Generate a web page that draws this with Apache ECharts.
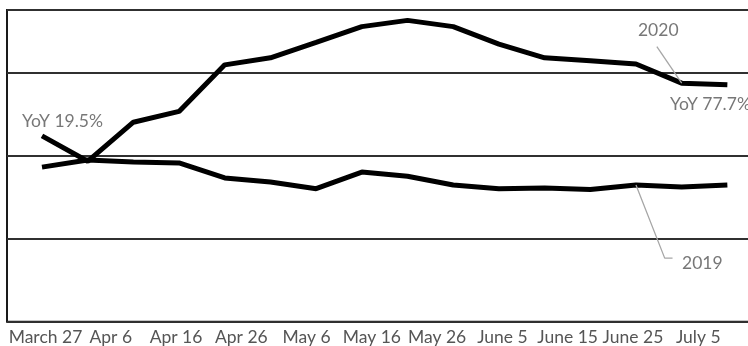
<!DOCTYPE html>
<html>
<head>
<meta charset="utf-8">
<script src="https://cdn.jsdelivr.net/npm/echarts@6/dist/echarts.min.js"></script>
<style>
html,body{margin:0;padding:0;background:#fff;}
#chart{width:748px;height:346px;}
</style>
</head>
<body>
<div id="chart"></div>
<script>
// Days after March 27 of each weekly observation
var pointDays = [0, 7, 14, 21, 28, 35, 42, 49, 56, 63, 70, 77, 84, 91, 98, 105];
var values2020 = [2.235, 1.93, 2.40, 2.53, 3.09, 3.175, 3.36, 3.55, 3.625, 3.55, 3.34, 3.175, 3.14, 3.10, 2.87, 2.85];
var values2019 = [1.86, 1.945, 1.92, 1.91, 1.73, 1.68, 1.60, 1.80, 1.75, 1.645, 1.60, 1.61, 1.59, 1.645, 1.62, 1.645];
var tickDays = [0, 10, 20, 30, 40, 50, 60, 70, 80, 90, 100];
var tickLabels = ['March 27', 'Apr 6', 'Apr 16', 'Apr 26', 'May 6', 'May 16', 'May 26', 'June 5', 'June 15', 'June 25', 'July 5'];
// annotation texts: [day, value, text]
var annotations = [
  [-3.06, 2.415, 'YoY 19.5%'],
  [91.3, 3.51, '2020'],
  [96.2, 2.61, 'YoY 77.7%'],
  [98.05, 0.70, '2019']
];
var leader2020 = [[98, 2.87], [94.2, 3.31]];
var leader2019 = [[91, 1.645], [95.4, 0.765], [96.6, 0.765]];

var FONT = 'Lato';
var TXT = '#555555';

function pairs(xs, ys) { return xs.map(function (x, i) { return [x, ys[i]]; }); }

var chart = echarts.init(document.getElementById('chart'), null, {renderer: 'canvas'});
chart.setOption({
  animation: false,
  backgroundColor: '#fff',
  grid: {
    left: 7, right: -12, top: 10, bottom: 24.3,
    outerBoundsMode: 'none', containLabel: false,
    show: true, borderColor: '#1a1a1a', borderWidth: 2, backgroundColor: 'transparent'
  },
  xAxis: {
    type: 'value', min: -5.36, max: 110,
    axisLine: {show: false}, axisTick: {show: false}, splitLine: {show: false},
    axisLabel: {
      customValues: tickDays,
      formatter: function (v) { var i = tickDays.indexOf(v); return i >= 0 ? tickLabels[i] : ''; },
      color: TXT, fontFamily: FONT, fontSize: 17.5, margin: 7, padding: [0, 0, 0, 7]
    }
  },
  yAxis: {
    type: 'value', min: 0, max: 3.75, interval: 1,
    axisLine: {show: false}, axisTick: {show: false}, axisLabel: {show: false},
    splitLine: {show: true, lineStyle: {color: '#303030', width: 2}}
  },
  series: [
    {
      name: '2019', type: 'line', data: pairs(pointDays, values2019),
      showSymbol: false, symbol: 'none', lineStyle: {color: '#000', width: 5}, z: 3
    },
    {
      name: '2020', type: 'line', data: pairs(pointDays, values2020),
      showSymbol: false, symbol: 'none', lineStyle: {color: '#000', width: 5}, z: 3
    },
    {
      name: 'leader2020', type: 'line', data: leader2020, silent: true,
      symbol: 'none', lineStyle: {color: '#a6a6a6', width: 1.3}, z: 4
    },
    {
      name: 'leader2019', type: 'line', data: leader2019, silent: true,
      symbol: 'none', lineStyle: {color: '#a6a6a6', width: 1.3}, z: 4
    },
    {
      name: 'labels', type: 'scatter', symbolSize: 0, silent: true, z: 5,
      data: annotations.map(function (a) { return {value: [a[0], a[1]], name: a[2]}; }),
      label: {
        show: true, position: 'inside', align: 'left', verticalAlign: 'middle',
        formatter: function (p) { return p.name; },
        color: TXT, fontFamily: FONT, fontSize: 17.5
      }
    }
  ]
});
</script>
</body>
</html>
